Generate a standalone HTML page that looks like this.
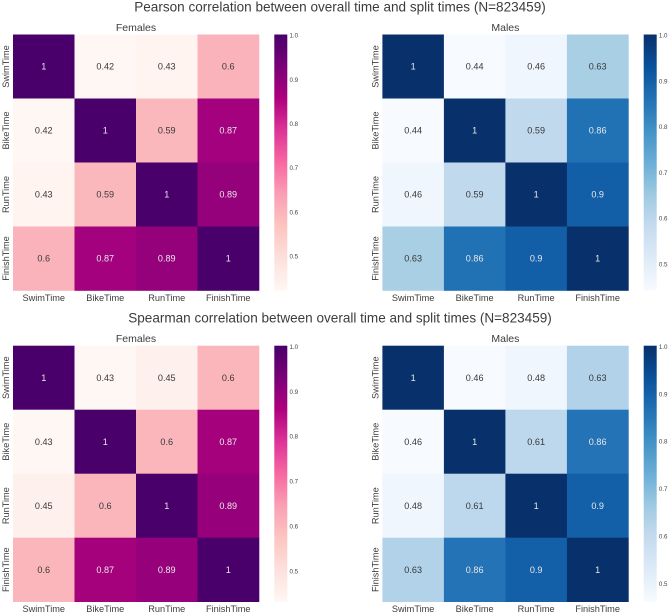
<!DOCTYPE html>
<html lang="en">
<head>
<meta charset="utf-8">
<title>Correlation between overall time and split times</title>
<style>
  html, body { margin: 0; padding: 0; background: #fff; width: 669px; height: 614px; overflow: hidden; }
  svg { display: block; filter: blur(0.3px); }
  text { font-family: "Liberation Sans", sans-serif; }
</style>
</head>
<body>
<svg id="chart" xmlns="http://www.w3.org/2000/svg" width="669" height="614" viewBox="0 0 669 614"></svg>
<script>
const categories = ['SwimTime', 'BikeTime', 'RunTime', 'FinishTime'];
const colorbarTicks = [0.5, 0.6, 0.7, 0.8, 0.9, 1.0];
const pearsonTitle = 'Pearson correlation between overall time and split times (N=823459)';
const spearmanTitle = 'Spearman correlation between overall time and split times (N=823459)';
const pearsonFemales = [
  [1, 0.42, 0.43, 0.6],
  [0.42, 1, 0.59, 0.87],
  [0.43, 0.59, 1, 0.89],
  [0.6, 0.87, 0.89, 1]
];
const pearsonMales = [
  [1, 0.44, 0.46, 0.63],
  [0.44, 1, 0.59, 0.86],
  [0.46, 0.59, 1, 0.9],
  [0.63, 0.86, 0.9, 1]
];
const spearmanFemales = [
  [1, 0.43, 0.45, 0.6],
  [0.43, 1, 0.6, 0.87],
  [0.45, 0.6, 1, 0.89],
  [0.6, 0.87, 0.89, 1]
];
const spearmanMales = [
  [1, 0.46, 0.48, 0.63],
  [0.46, 1, 0.61, 0.86],
  [0.48, 0.61, 1, 0.9],
  [0.63, 0.86, 0.9, 1]
];

const rdPu = ['#fff7f3', '#fde0dd', '#fcc5c0', '#fa9fb5', '#f768a1', '#dd3497', '#ae017e', '#7a0177', '#49006a'];
const blues = ['#f7fbff', '#deebf7', '#c6dbef', '#9ecae1', '#6baed6', '#4292c6', '#2171b5', '#08519c', '#08306b'];

const NS = 'http://www.w3.org/2000/svg';
const svg = document.getElementById('chart');

function make(parent, tag, attrs, content) {
  const el = document.createElementNS(NS, tag);
  for (const k in attrs) el.setAttribute(k, attrs[k]);
  if (content !== undefined) el.textContent = content;
  parent.appendChild(el);
  return el;
}
function hexToRgb(h) {
  return [parseInt(h.slice(1, 3), 16), parseInt(h.slice(3, 5), 16), parseInt(h.slice(5, 7), 16)];
}
function sampleMap(map, t) {
  const p = Math.max(0, Math.min(1, t)) * (map.length - 1);
  const i = Math.min(Math.floor(p), map.length - 2);
  const f = p - i;
  const a = hexToRgb(map[i]);
  const b = hexToRgb(map[i + 1]);
  return [0, 1, 2].map(function (c) { return a[c] + (b[c] - a[c]) * f; });
}
function rgbString(c) {
  return 'rgb(' + c.map(Math.round).join(',') + ')';
}
function luminance(c) {
  const l = c.map(function (v) {
    const s = v / 255;
    return s <= 0.03928 ? s / 12.92 : Math.pow((s + 0.055) / 1.055, 2.4);
  });
  return 0.2126 * l[0] + 0.7152 * l[1] + 0.0722 * l[2];
}

function drawPanel(panelName, title, matrix, map, left, top, idSuffix) {
  const size = 246;
  const height = 256;
  const n = categories.length;
  const flat = matrix.reduce(function (a, r) { return a.concat(r); }, []);
  const vmin = Math.min.apply(null, flat);
  const vmax = Math.max.apply(null, flat);
  const xScale = function (i) { return left + i * size / n; };
  const yScale = function (i) { return top + i * height / n; };
  const colorT = function (v) { return (v - vmin) / (vmax - vmin); };

  const g = make(svg, 'g', {});
  
  

  const heading = make(g, 'text', { x: left + size / 2, y: top - 3.5, 'text-anchor': 'middle', 'font-size': '10.5', fill: '#3c3c3c' }, title);
  
  

  matrix.forEach(function (row, r) {
    row.forEach(function (value, c) {
      const color = sampleMap(map, colorT(value));
      const cell = make(g, 'rect', {
        x: xScale(c), y: yScale(r),
        width: size / n + 0.3, height: height / n + 0.3,
        fill: rgbString(color)
      });
      
      
      const label = make(g, 'text', {
        x: xScale(c) + size / n / 2,
        y: yScale(r) + height / n / 2 + 3.2,
        'text-anchor': 'middle', 'font-size': '9.1',
        fill: luminance(color) < 0.408 ? '#e8e8e8' : '#383838'
      }, String(value));
      
      
    });
  });

  categories.forEach(function (name, i) {
    const xLabel = make(g, 'text', {
      x: xScale(i) + size / n / 2, y: top + height + 10.4,
      'text-anchor': 'middle', 'font-size': '9.2', fill: '#3c3c3c'
    }, name);
    
    
    const cy = yScale(i) + height / n / 2;
    const lx = left - 4;
    const yLabel = make(g, 'text', {
      x: lx, y: cy, 'text-anchor': 'middle', 'font-size': '9.2', fill: '#3c3c3c',
      transform: 'rotate(-90 ' + lx + ' ' + cy + ')'
    }, name);
    
    
  });

  const barX = left + size + 15.3;
  const gradId = 'grad-' + idSuffix;
  const grad = make(g, 'linearGradient', { id: gradId, x1: '0', y1: '1', x2: '0', y2: '0' });
  map.forEach(function (hex, i) {
    make(grad, 'stop', { offset: (i / (map.length - 1)), 'stop-color': hex });
  });
  const bar = make(g, 'rect', { x: barX, y: top, width: 13, height: height, fill: 'url(#' + gradId + ')' });
  
  

  colorbarTicks.forEach(function (tick) {
    const ty = top + (1 - colorT(tick)) * height;
    const tickLabel = make(g, 'text', {
      x: barX + 15.2, y: ty + 3.2, 'font-size': '6.2', fill: '#444'
    }, tick.toFixed(1));
    
    
  });
}

const bg = make(svg, 'rect', { x: 0, y: 0, width: 669, height: 614, fill: '#ffffff' });



const title1 = make(svg, 'text', { x: 340, y: 11.5, 'text-anchor': 'middle', 'font-size': '13.55', fill: '#3c3c3c' }, pearsonTitle);


const title2 = make(svg, 'text', { x: 340, y: 322.5, 'text-anchor': 'middle', 'font-size': '13.55', fill: '#3c3c3c' }, spearmanTitle);



drawPanel('pearson-females', 'Females', pearsonFemales, rdPu, 13, 34.5, 'pf');
drawPanel('pearson-males', 'Males', pearsonMales, blues, 382.4, 34.5, 'pm');
drawPanel('spearman-females', 'Females', spearmanFemales, rdPu, 13, 345.7, 'sf');
drawPanel('spearman-males', 'Males', spearmanMales, blues, 382.4, 345.7, 'sm');
</script>
</body>
</html>
